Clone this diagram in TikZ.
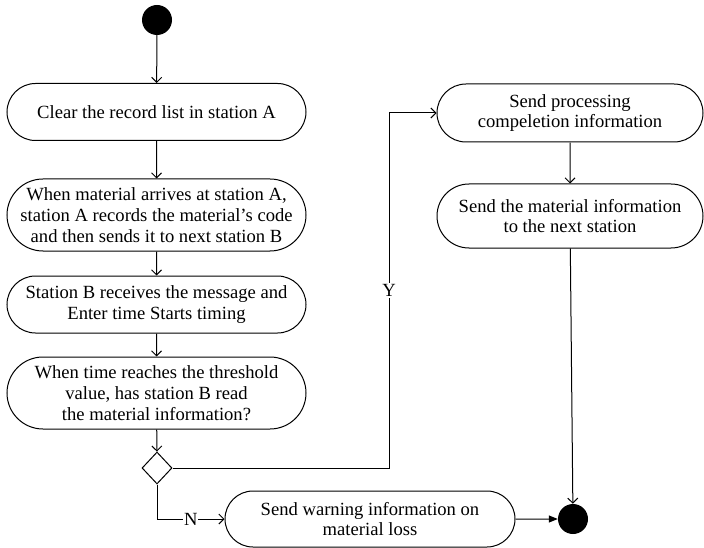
\documentclass[tikz,border=0pt]{standalone}
\usepackage{fontspec}
\setmainfont{Liberation Serif}
\usetikzlibrary{shapes.misc,shapes.geometric,arrows.meta}

\tikzset{
  act/.style={rounded rectangle,draw,line width=1pt,align=center,
    inner sep=0pt,font=\fontsize{18.6}{20.8}\selectfont},
  leftact/.style={act,minimum width=299pt},
  rightact/.style={act,minimum width=266pt},
  dot/.style={circle,fill=black,minimum size=30pt,inner sep=0pt},
  branch/.style={diamond,draw,line width=1pt,minimum width=30pt,
    minimum height=32pt,inner sep=0pt},
  flow/.style={draw,line width=1pt,-{Straight Barb[length=5pt,width=10pt]}},
  lbl/.style={fill=white,inner sep=1pt,font=\fontsize{18.6}{20.8}\selectfont}
}

\begin{document}
\begin{tikzpicture}[x=1pt,y=-1pt]

      \useasboundingbox (0,0) rectangle (704,548);

      % start / end
      \node[dot] (start) at (157,20) {};
      \node[dot] (stop)  at (573,519) {};

      % left column
      \node[leftact,minimum height=57pt] (clear) at (156.5,112)
        {Clear the record list in station A};
      \node[leftact,minimum height=72pt] (arrive) at (156.5,215)
        {When material arrives at station A,\\
         station A records the material's code\\
         and then sends it to next station B};
      \node[leftact,minimum height=57pt] (timing) at (156.5,304.5)
        {Station B receives the message and\\ Enter time Starts timing};
      \node[leftact,minimum height=72pt] (check) at (156.5,393)
        {When time reaches the threshold\\ value, has station B read\\
         the material information?};
      \node[branch] (cond) at (157,468) {};

      % right column
      \node[rightact,minimum height=58pt] (done) at (570,113)
        {Send processing\\ compeletion information};
      \node[rightact,minimum height=64pt] (next) at (570,216)
        {Send the material information\\ to the next station};
      \node[act,minimum width=290pt,minimum height=56pt] (warn) at (370,519)
        {Send warning information on\\ material loss};

      \coordinate (ybend) at (389,468);

      \path[flow] (start)  edge (clear);
      \path[flow] (clear)  edge (arrive);
      \path[flow] (arrive) edge (timing);
      \path[flow] (timing) edge (check);
      \path[flow] (check)  edge (cond);
      \path[flow] (done)   edge (next);
      \path[flow] (next)   edge (stop);

      \draw[flow] (cond.east) -- (ybend) -- node[lbl] {Y} (ybend |- done.west)
        -- (done.west);
      \draw[flow] (cond.south) |- node[lbl,pos=0.75] {N} (warn.west);
      \draw[line width=1pt,-{Triangle[length=9pt,width=7pt]}] (warn) -- (stop);

    \end{tikzpicture}
\end{document}
